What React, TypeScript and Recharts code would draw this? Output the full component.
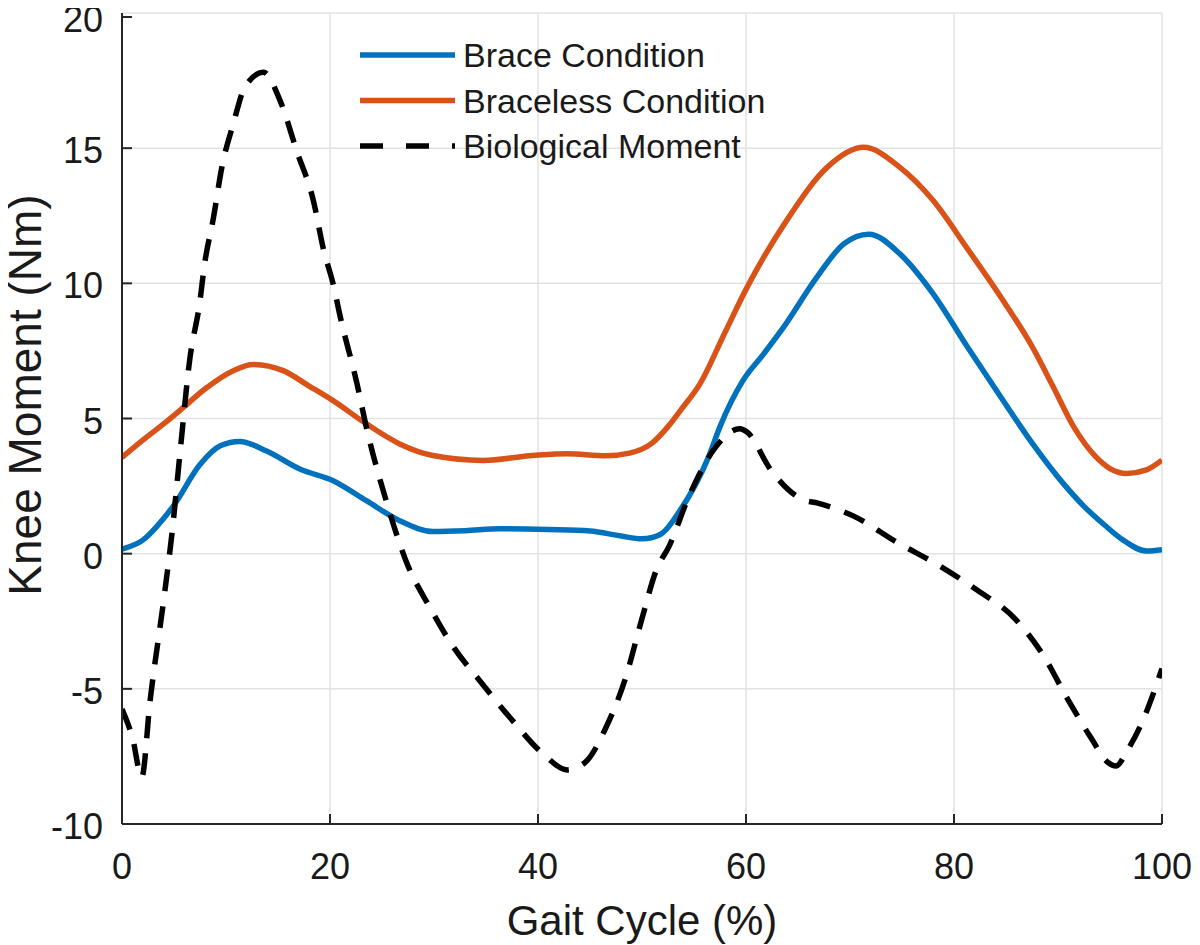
import React from 'react';
import { LineChart, Line, XAxis, YAxis, CartesianGrid, Legend } from 'recharts';

const FONT = '"Liberation Sans", Arial, Helvetica, sans-serif';

const xTicks = [0, 20, 40, 60, 80, 100];
const yTicks = [-10, -5, 0, 5, 10, 15, 20];

const seriesNames = ['Brace Condition', 'Braceless Condition', 'Biological Moment'];
const seriesColors = ['#0072BD', '#D95319', '#000000'];

const braceX = [0, 2, 4, 5, 7.5, 9.5, 11.3, 13.9, 17.1, 20.3, 23.5, 26.7, 29.9, 33, 36.3, 41, 45, 48, 50, 51.8, 53.7, 56.4, 57.5, 59.7, 61.7, 63.6, 66.8, 69.4, 71.8, 74.8, 78, 81.2, 84.4, 87.5, 90.5, 92.5, 94.5, 96.2, 98.5, 100];
const braceY = [0.17, 0.5, 1.3, 1.8, 3.3, 4.0, 4.15, 3.8, 3.13, 2.7, 1.96, 1.22, 0.82, 0.85, 0.92, 0.89, 0.84, 0.65, 0.55, 0.72, 1.62, 3.58, 4.7, 6.4, 7.39, 8.37, 10.22, 11.46, 11.82, 11.09, 9.61, 7.7, 5.85, 4.1, 2.6, 1.75, 1.05, 0.52, 0.1, 0.15];

const bracelessX = [0, 2, 4, 5.9, 8, 10.7, 12.6, 15.5, 18, 20.3, 23.5, 26.7, 29.9, 34.7, 39.5, 42.8, 46.5, 48.8, 50.9, 52.5, 53.7, 55.6, 58, 60.1, 63.9, 67.8, 71.3, 74.8, 78, 81.2, 84.4, 87.6, 89.5, 91.5, 93.6, 95, 96.6, 98.5, 100];
const bracelessY = [3.56, 4.2, 4.8, 5.41, 6.1, 6.77, 7.0, 6.77, 6.2, 5.66, 4.8, 4.06, 3.63, 3.45, 3.63, 3.7, 3.62, 3.72, 4.07, 4.7, 5.3, 6.3, 8.2, 9.85, 12.32, 14.29, 15.03, 14.29, 13.06, 11.33, 9.55, 7.6, 6.2, 4.7, 3.6, 3.15, 2.97, 3.1, 3.46];

const bioX = [0, 1, 1.9, 2.7, 4, 4.8, 5.6, 6.5, 7.5, 7.9, 8.8, 9.6, 10.7, 11.8, 13.6, 15.2, 16.8, 18.4, 19.4, 20.3, 21, 22.6, 23.5, 25.4, 27.3, 29.6, 31.9, 34.4, 37.3, 40.5, 42.8, 43.8, 44.7, 46.5, 48.4, 49.9, 51.4, 52.6, 54.5, 57.1, 59.4, 60.1, 62.4, 65.5, 66.9, 70.4, 74.6, 78.4, 82.1, 85.9, 88.6, 90.9, 93.2, 94.7, 95.6, 96.6, 98.1, 100];
const bioY = [-5.75, -6.8, -8.27, -5.44, -1.74, 0.73, 3.81, 7.14, 9.36, 10.6, 12.44, 14.29, 15.9, 17.25, 17.81, 16.76, 14.9, 13.06, 11.21, 9.98, 8.74, 6.28, 4.67, 1.96, -0.26, -1.99, -3.47, -4.7, -6.06, -7.41, -8.0, -7.9, -7.66, -6.46, -4.62, -2.54, -0.58, 0.27, 2.11, 3.95, 4.62, 4.5, 3.09, 1.99, 1.87, 1.38, 0.4, -0.4, -1.32, -2.42, -3.77, -5.36, -6.83, -7.69, -7.85, -7.32, -6.22, -4.25];

const toData = (xs: number[], ys: number[]) => xs.map((x, i) => ({ x, y: ys[i] }));
const braceData = toData(braceX, braceY);
const bracelessData = toData(bracelessX, bracelessY);
const bioData = toData(bioX, bioY);

const AXIS = '#262626';
const TEXT = '#1a1a1a';

const XTick = (props: any) => {
  const { x, y, payload } = props;
  return (
    <g>
      <line x1={x} y1={y} x2={x} y2={y - 10} stroke={AXIS} strokeWidth={2} />
      <text x={x} y={y + 55} textAnchor="middle" fontSize={36} fill={TEXT} fontFamily={FONT}>
        {payload.value}
      </text>
    </g>
  );
};

const YTick = (props: any) => {
  const { x, y, payload } = props;
  return (
    <g>
      <line x1={x} y1={y} x2={x + 10} y2={y} stroke={AXIS} strokeWidth={2} />
      <text x={x - 19} y={y + 15} textAnchor="end" fontSize={36} fill={TEXT} fontFamily={FONT}>
        {payload.value}
      </text>
    </g>
  );
};

const LegendContent = () => (
  <svg width={460} height={140} style={{ display: 'block' }}>
    {seriesNames.map((name, i) => {
      const ly = 27 + i * 45.5;
      return (
        <g key={name}>
          <line
            x1={12}
            y1={ly}
            x2={107}
            y2={ly}
            stroke={seriesColors[i]}
            strokeWidth={5.5}
            strokeDasharray={i === 2 ? '23 23' : undefined}
          />
          <text x={115} y={ly + 12} fontSize={34} fill={TEXT} fontFamily={FONT}>
            {name}
          </text>
        </g>
      );
    })}
  </svg>
);

export default function App() {
  return (
    <div style={{ width: 1192, height: 937, background: '#fff' }}>
      <LineChart width={1192} height={937} margin={{ top: 5, right: 38, bottom: 0, left: 0 }}>
        <CartesianGrid stroke="#e2e2e2" strokeWidth={1.5} />
        <XAxis
          dataKey="x"
          type="number"
          domain={[0, 100]}
          ticks={xTicks}
          allowDataOverflow
          height={121}
          tickSize={0}
          tickMargin={0}
          tickLine={false}
          axisLine={{ stroke: AXIS, strokeWidth: 2 }}
          tick={<XTick />}
          label={(p: any) => (
            <text x={634} y={927} textAnchor="middle" fontSize={42} fill={TEXT} fontFamily={FONT}>
              Gait Cycle (%)
            </text>
          )}
        />
        <YAxis
          type="number"
          domain={[-10, 20]}
          ticks={yTicks}
          allowDataOverflow
          width={114}
          tickSize={0}
          tickMargin={0}
          tickLine={false}
          axisLine={{ stroke: AXIS, strokeWidth: 2 }}
          tick={<YTick />}
          label={(p: any) => (
            <text
              x={33}
              y={387}
              transform="rotate(-90, 33, 387)"
              textAnchor="middle"
              fontSize={46}
              fill={TEXT}
              fontFamily={FONT}
            >
              Knee Moment (Nm)
            </text>
          )}
        />
        <Legend
          align="center"
          verticalAlign="middle"
          layout="horizontal"
          wrapperStyle={{ top: 20, left: 340, width: 460, height: 140 }}
          content={<LegendContent />}
        />
        <Line
          data={braceData}
          dataKey="y"
          name={seriesNames[0]}
          type="monotone"
          stroke={seriesColors[0]}
          strokeWidth={5.5}
          dot={false}
          activeDot={false}
          isAnimationActive={false}
        />
        <Line
          data={bracelessData}
          dataKey="y"
          name={seriesNames[1]}
          type="monotone"
          stroke={seriesColors[1]}
          strokeWidth={5.5}
          dot={false}
          activeDot={false}
          isAnimationActive={false}
        />
        <Line
          data={bioData}
          dataKey="y"
          name={seriesNames[2]}
          type="monotone"
          stroke={seriesColors[2]}
          strokeWidth={5.5}
          strokeDasharray="22 15"
          dot={false}
          activeDot={false}
          isAnimationActive={false}
        />
      </LineChart>
    </div>
  );
}
